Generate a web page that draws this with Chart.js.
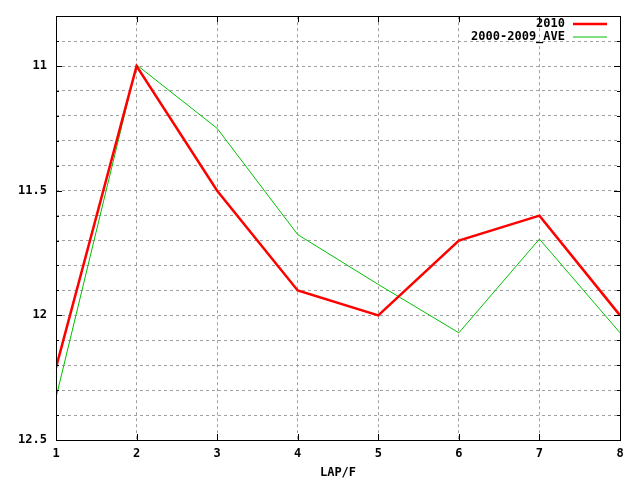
<!DOCTYPE html>
<html>
<head>
<meta charset="utf-8">
<script src="https://cdn.jsdelivr.net/npm/chart.js@4/dist/chart.umd.min.js"></script>
<style>
  html, body { margin: 0; padding: 0; background: #fff; }
  #wrap { width: 640px; height: 480px; }
</style>
</head>
<body>
<div id="wrap"><canvas id="c" width="640" height="480"></canvas></div>
<script>
// data
const laps = [1, 2, 3, 4, 5, 6, 7, 8];
const y2010 = [12.21, 11.0, 11.5, 11.9, 12.0, 11.7, 11.6, 12.0];
const yAve = [12.33, 10.995, 11.25, 11.676, 11.876, 12.07, 11.694, 12.07];
const yLabels = [11, 11.5, 12, 12.5];

const FONT = { family: "'DejaVu Sans Mono', monospace", size: 12, weight: 'bold' };

function pts(ys) {
  return laps.map((x, i) => ({ x: x, y: ys[i] }));
}

// border, inward ticks and gnuplot style legend
const frame = {
  id: 'frame',
  afterDatasetsDraw(chart) {
    const ctx = chart.ctx, a = chart.chartArea;
    const xs = chart.scales.x, ys = chart.scales.y;
    ctx.save();
    ctx.strokeStyle = '#000';
    ctx.lineWidth = 1;
    ctx.beginPath();
    xs.ticks.forEach(t => {
      const px = Math.round(xs.getPixelForValue(t.value)) + 0.5;
      ctx.moveTo(px, a.bottom); ctx.lineTo(px, a.bottom - 6);
      ctx.moveTo(px, a.top); ctx.lineTo(px, a.top + 6);
    });
    ys.ticks.forEach(t => {
      const py = Math.round(ys.getPixelForValue(t.value)) + 0.5;
      const major = yLabels.some(v => Math.abs(v - t.value) < 1e-6);
      const len = major ? 6 : 3;
      ctx.moveTo(a.left, py); ctx.lineTo(a.left + len, py);
      ctx.moveTo(a.right, py); ctx.lineTo(a.right - len, py);
    });
    ctx.stroke();
    ctx.strokeRect(Math.round(a.left) + 0.5, Math.round(a.top) + 0.5,
      Math.round(a.right - a.left), Math.round(a.bottom - a.top));

    // legend
    ctx.font = 'bold 12px ' + FONT.family;
    ctx.textAlign = 'right';
    ctx.textBaseline = 'middle';
    chart.data.datasets.forEach((ds, i) => {
      const y = 24 + i * 13;
      ctx.fillStyle = '#000';
      ctx.fillText(ds.label, 565, y);
      ctx.strokeStyle = ds.borderColor;
      ctx.lineWidth = ds.borderWidth;
      ctx.beginPath();
      ctx.moveTo(573, y); ctx.lineTo(607, y);
      ctx.stroke();
    });
    ctx.restore();
  }
};

new Chart(document.getElementById('c'), {
  type: 'line',
  data: {
    datasets: [
      { label: '2010', data: pts(y2010), borderColor: '#ff0000', borderWidth: 2.5, pointRadius: 0, tension: 0 },
      { label: '2000-2009_AVE', data: pts(yAve), borderColor: '#00c000', borderWidth: 1, pointRadius: 0, tension: 0 }
    ]
  },
  options: {
    responsive: false,
    animation: false,
    devicePixelRatio: 1,
    layout: { padding: { top: 13, right: 20, left: 0, bottom: 0 } },
    plugins: { legend: { display: false }, tooltip: { enabled: false } },
    scales: {
      x: {
        type: 'linear',
        min: 1, max: 8,
        ticks: { stepSize: 1, color: '#000', font: FONT, padding: 7 },
        grid: { color: '#a0a0a0', drawTicks: false },
        border: { display: false, dash: [3, 3] },
        title: { display: true, text: 'LAP/F', color: '#000', font: FONT, padding: { top: 2, bottom: 0 } },
        afterFit(s) { s.height = 40; }
      },
      y: {
        type: 'linear',
        reverse: true,
        min: 10.8, max: 12.5,
        ticks: {
          stepSize: 0.1,
          color: '#000',
          font: FONT,
          padding: 9,
          autoSkip: false,
          callback: v => {
            const m = yLabels.find(l => Math.abs(l - v) < 1e-6);
            return m === undefined ? '' : String(m);
          }
        },
        grid: { color: '#a0a0a0', drawTicks: false },
        border: { display: false, dash: [3, 3] },
        afterFit(s) { s.width = 56; }
      }
    }
  },
  plugins: [frame]
});
</script>
</body>
</html>
